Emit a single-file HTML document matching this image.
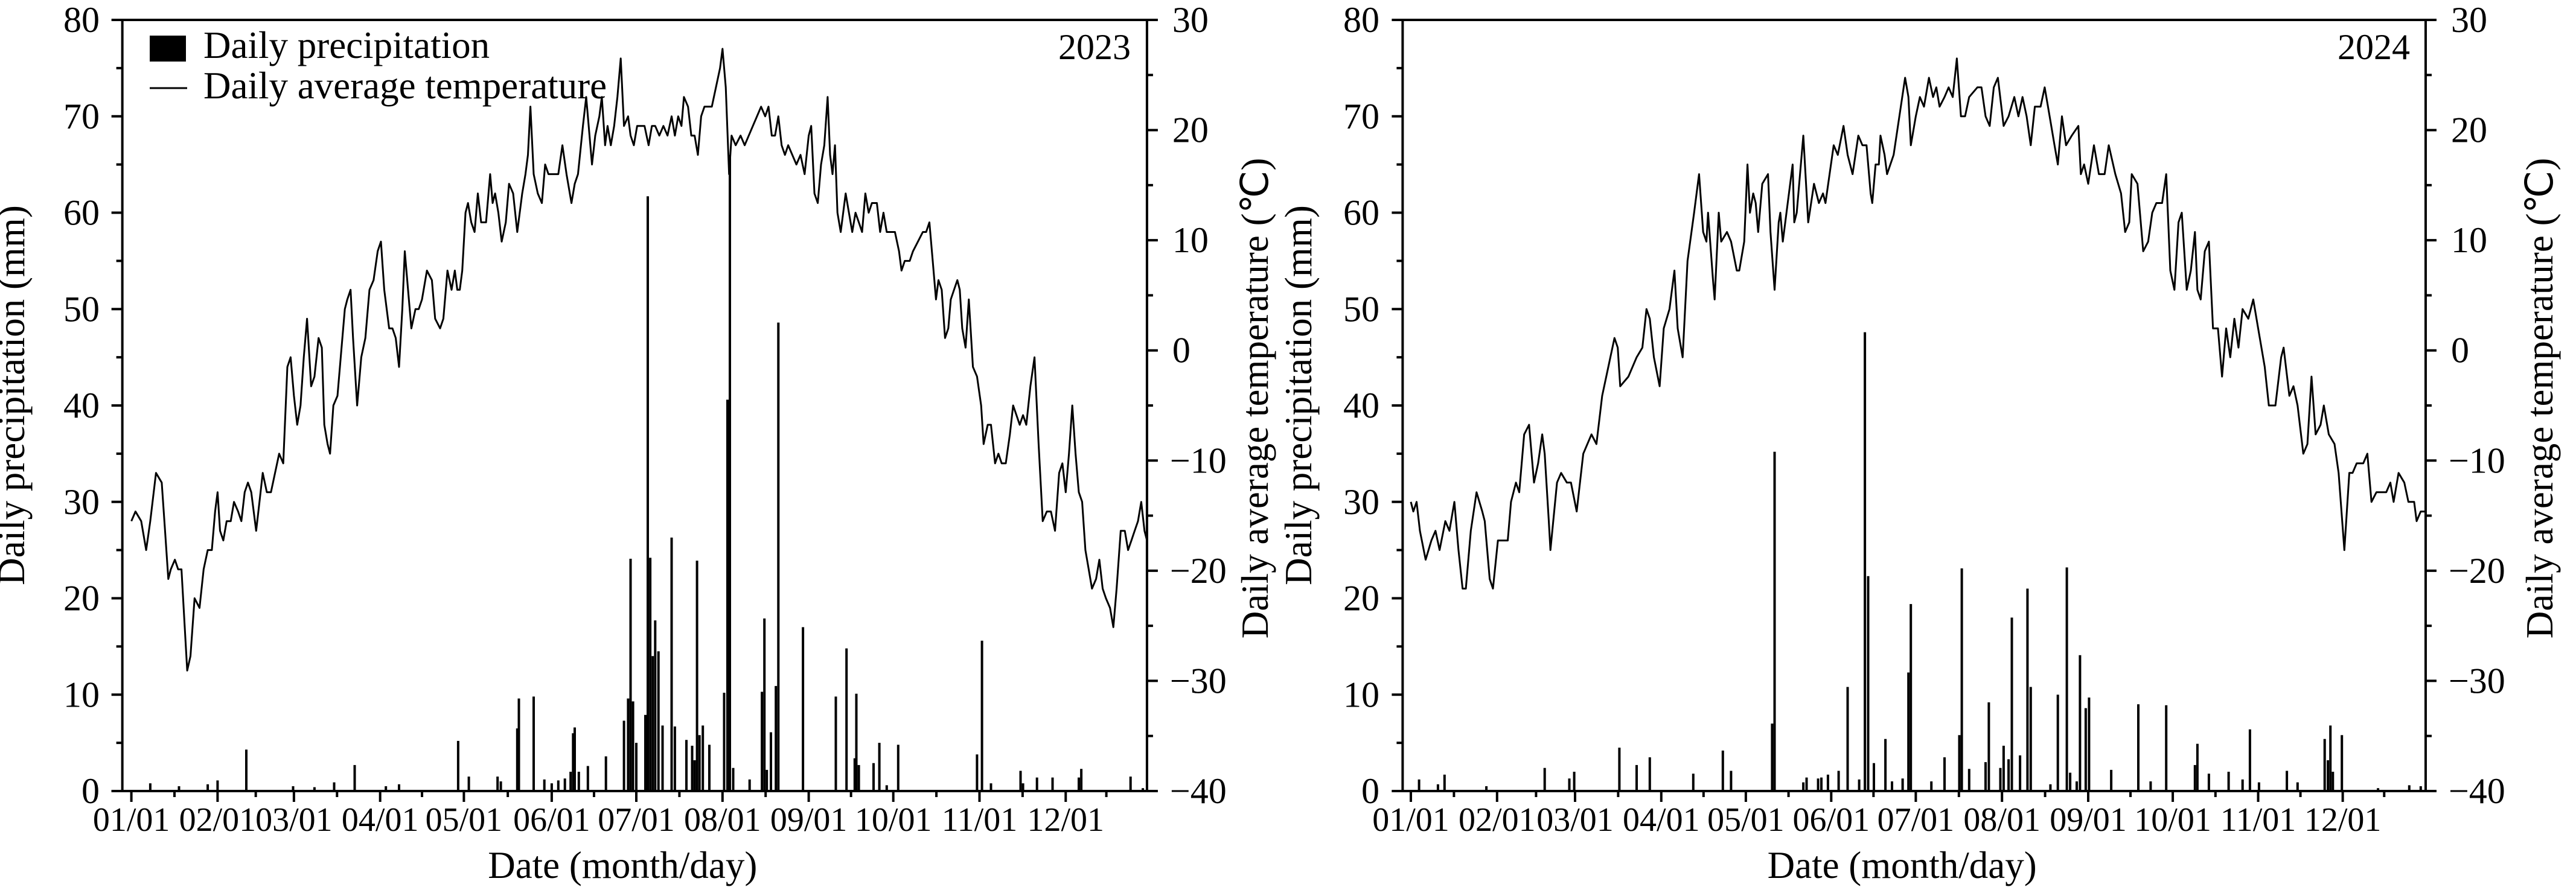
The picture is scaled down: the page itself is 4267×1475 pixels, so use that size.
<!DOCTYPE html>
<html><head><meta charset="utf-8"><style>
html,body{margin:0;padding:0;background:#fff;}
svg{display:block;}
text{font-family:"Liberation Serif",serif;fill:#000;}
</style></head><body>
<svg id="s" xmlns="http://www.w3.org/2000/svg" width="4267" height="1475" viewBox="0 0 4267 1475"></svg>
<script>
const S=document.getElementById('s');
let h='';
const Y0=1311, PY=15.975; // px per mm
function yv(v){return Y0-v*PY;}
function panel(o){
  const X=xz=>o.off+xz*1.36;
  const L=X(o.left), R=X(o.right);
  // bars
  o.bars.forEach(b=>{const x=X(b[0]);h+=`<rect x="${(x-2).toFixed(1)}" y="${yv(b[1]).toFixed(1)}" width="4" height="${(b[1]*PY).toFixed(1)}" fill="#000"/>`;});
  // temp line
  let pts=o.temp.map(p=>X(p[0]).toFixed(1)+','+yv(p[1]).toFixed(1)).join(' ');
  h+=`<polyline points="${pts}" fill="none" stroke="#000" stroke-width="3" stroke-linejoin="round"/>`;
  // axes
  h+=`<line x1="${L}" y1="33" x2="${R}" y2="33" stroke="#000" stroke-width="4"/>`;
  h+=`<line x1="${L}" y1="31" x2="${L}" y2="${Y0}" stroke="#000" stroke-width="4"/>`;
  h+=`<line x1="${R}" y1="31" x2="${R}" y2="${Y0}" stroke="#000" stroke-width="4"/>`;
  h+=`<line x1="${L-18}" y1="${Y0}" x2="${R}" y2="${Y0}" stroke="#000" stroke-width="4"/>`;
  // left ticks
  for(let v=0;v<=80;v+=5){const y=yv(v);const len=v%10==0?18:10;
    h+=`<line x1="${L-len}" y1="${y}" x2="${L}" y2="${y}" stroke="#000" stroke-width="4"/>`;
    if(v%10==0)h+=`<text x="${o.ylab}" y="${y+20}" font-size="60" text-anchor="end">${v}</text>`;}
  // right ticks
  const TY=t=>33+(30-t)*(Y0-33)/70;
  for(let t=-40;t<=30;t+=5){const y=TY(t);const len=t%10==0?18:10;
    h+=`<line x1="${R}" y1="${y}" x2="${R+len}" y2="${y}" stroke="#000" stroke-width="4"/>`;
    if(t%10==0){const s=t<0?'\u2212'+(-t):''+t;h+=`<text x="${R+(t<0?38:42)}" y="${y+20}" font-size="60">${s}</text>`;}}
  // x ticks
  o.months.forEach((m,i)=>{const x=X(m);h+=`<line x1="${x}" y1="${Y0}" x2="${x}" y2="${Y0+18}" stroke="#000" stroke-width="4"/>`;
    h+=`<text x="${x}" y="1377" font-size="56" text-anchor="middle">${String(i+1).padStart(2,'0')}/01</text>`;
    const nx=i<11?o.months[i+1]:o.right; const mx=X((m+nx)/2);
    if(i<11||true)h+=`<line x1="${mx}" y1="${Y0}" x2="${mx}" y2="${Y0+10}" stroke="#000" stroke-width="4"/>`;});
  h+=`<text x="${(L+R)/2-20}" y="1455" font-size="63" text-anchor="middle">Date (month/day)</text>`;
  h+=`<text transform="translate(${o.lt},655) rotate(-90)" font-size="63" text-anchor="middle">Daily precipitation (mm)</text>`;
  h+=`<text transform="translate(${o.rt},660) rotate(-90)" font-size="63" text-anchor="middle">Daily average temperature (\u2103)</text>`;
  h+=`<text x="${o.yr}" y="98" font-size="60" text-anchor="end">${o.year}</text>`;
}
const t23=[[160,28],[165,29],[172,28],[178,25],[183,28],[190,33],[197,32],[201,27],[205,22],[208,23],[213,24],[217,23],[221,23],[225,17],[228,12.5],[232,14],[237,20],[243,19],[248,23],[253,25],[258,25],[262,29],[265,31],[268,27],[272,26],[276,28],[281,28],[285,30],[290,29],[294,28],[298,31],[302,32],[306,31],[312,27],[316,30],[320,33],[325,31],[330,31],[335,33],[340,35],[345,34],[350,44],[354,45],[358,41],[362,38],[366,40],[370,45],[374,49],[379,42],[383,43],[388,47],[392,46],[395,38],[399,36],[402,35],[406,40],[411,41],[415,45],[420,50],[423,51],[427,52],[430,47],[435,40],[440,45],[445,47],[450,52],[455,53],[460,56],[464,57],[468,52],[474,48],[478,48],[482,47],[486,44],[490,50],[493,56],[497,52],[501,48],[506,50],[510,50],[514,51],[520,54],[526,53],[530,49],[536,48],[540,49],[545,54],[550,52],[554,54],[557,52],[560,52],[563,54],[567,60],[570,61],[574,59],[578,58],[582,62],[586,59],[592,59],[597,64],[600,61],[603,62],[607,60],[611,57],[616,59],[620,63],[625,62],[630,58],[636,62],[640,64],[643,66],[646,71],[650,64],[655,62],[660,61],[664,65],[668,64],[674,64],[680,64],[685,67],[690,64],[696,61],[700,63],[704,64],[710,69],[714,72],[718,68],[721,65],[725,68],[730,70],[733,72],[737,67],[740,69],[744,67],[748,69],[752,72],[756,76],[760,69],[765,70],[768,68],[772,67],[776,69],[780,69],[785,69],[790,67],[794,69],[798,69],[803,68],[808,69],[813,68],[818,70],[822,68],[826,70],[830,69],[833,72],[838,71],[842,68],[846,68],[850,66],[854,70],[858,71],[863,71],[867,71],[872,73],[877,75],[880,77],[884,73],[888,64],[891,68],[896,67],[902,68],[907,67],[912,68],[917,69],[922,70],[927,71],[932,70],[936,71],[940,68],[944,68],[948,70],[952,67],[956,66],[960,67],[965,66],[970,65],[975,66],[980,64],[985,68],[988,69],[992,62],[996,61],[1000,65],[1004,67],[1008,72],[1011,66],[1014,64],[1017,67],[1020,60],[1024,58],[1030,62],[1034,60],[1038,58],[1042,60],[1046,59],[1050,58],[1054,62],[1058,60],[1062,61],[1068,61],[1072,58],[1076,60],[1080,58],[1085,58],[1090,58],[1095,56],[1098,54],[1102,55],[1108,55],[1112,56],[1118,57],[1124,58],[1128,58],[1132,59],[1136,55],[1140,51],[1143,53],[1147,52],[1151,47],[1155,48],[1158,51],[1162,52],[1166,53],[1169,52],[1172,48],[1176,46],[1180,51],[1185,44],[1190,43],[1195,40],[1198,36],[1203,38],[1207,38],[1212,34],[1216,35],[1220,34],[1225,34],[1230,37],[1234,40],[1238,39],[1242,38],[1246,39],[1250,38],[1255,42],[1260,45],[1265,36],[1270,28],[1275,29],[1280,29],[1285,27],[1290,33],[1294,34],[1298,31],[1302,35],[1306,40],[1310,35],[1314,31],[1318,30],[1322,25],[1326,23],[1330,21],[1335,22],[1339,24],[1343,21],[1347,20],[1352,19],[1356,17],[1360,21],[1365,27],[1370,27],[1374,25],[1378,26],[1382,27],[1386,28],[1390,30],[1394,27],[1397,26]];
const b23=[[183,0.8],[218,0.5],[253,0.7],[265,1.1],[300,4.3],[357,0.5],[383,0.4],[407,0.9],[432,2.7],[470,0.5],[486,0.7],[558,5.2],[571,1.5],[606,1.5],[610,1.0],[630,6.5],[632,9.6],[650,9.8],[663,1.2],[672,0.8],[680,1.1],[688,1.3],[695,2.0],[698,6.0],[700,6.6],[705,2.0],[716,2.6],[738,3.6],[760,7.3],[765,9.6],[768,24.1],[771,9.3],[775,5.0],[786,7.9],[789,61.7],[792,24.2],[795,14.0],[798,17.7],[802,14.5],[807,6.8],[818,26.3],[822,6.7],[836,5.3],[843,4.7],[846,3.2],[849,23.9],[852,5.8],[856,6.8],[864,4.8],[882,10.2],[886,40.6],[889,66],[893,2.4],[913,1.2],[928,10.3],[931,17.9],[934,2.2],[939,6.1],[945,10.9],[948,48.6],[978,17.0],[1018,9.8],[1031,14.8],[1041,3.4],[1043,10.1],[1046,2.7],[1064,2.9],[1071,5.0],[1080,0.6],[1094,4.8],[1190,3.8],[1196,15.6],[1207,0.8],[1243,2.1],[1246,0.8],[1263,1.4],[1282,1.4],[1314,1.4],[1317,2.3],[1377,1.5],[1392,0.3]];
const t24=[[150,30],[153,29],[157,30],[161,27],[168,24],[175,26],[180,27],[185,25],[192,28],[197,27],[203,30],[208,25],[213,21],[217,21],[223,27],[230,31],[237,29],[240,28],[246,22],[250,21],[256,26],[262,26],[268,26],[272,30],[278,32],[282,31],[288,37],[294,38],[300,32],[305,34],[310,37],[313,35],[318,28],[320,25],[328,32],[333,33],[340,32],[345,32],[352,29],[360,35],[370,37],[376,36],[383,41],[393,45],[398,47],[402,46],[405,42],[415,43],[425,45],[432,46],[437,50],[441,49],[446,45],[453,42],[458,48],[465,50],[471,54],[475,48],[481,45],[487,55],[495,60],[501,64],[506,58],[510,57],[512,60],[518,53],[520,51],[525,60],[528,57],[535,58],[540,57],[547,54],[550,54],[556,57],[560,65],[563,60],[567,62],[570,61],[573,58],[578,63],[585,64],[588,58],[593,52],[598,59],[600,60],[603,57],[615,65],[617,59],[620,60],[628,68],[634,59],[641,63],[647,61],[652,62],[655,61],[665,67],[670,66],[677,69],[682,66],[688,64],[695,68],[700,67],[705,67],[710,62],[712,61],[716,65],[720,65],[722,68],[727,66],[730,64],[738,66],[745,70],[752,74],[756,72],[759,67],[765,70],[770,72],[775,71],[781,74],[786,72],[790,73],[794,71],[800,72],[805,73],[810,72],[815,76],[820,70],[825,70],[830,72],[840,73],[845,73],[850,70],[855,69],[860,73],[865,74],[872,69],[878,70],[885,72],[890,70],[895,72],[900,70],[905,67],[910,71],[917,71],[922,73],[928,70],[934,67],[938,65],[943,70],[948,67],[955,68],[963,69],[966,64],[970,65],[975,63],[982,67],[988,64],[995,64],[1000,67],[1008,64],[1015,62],[1020,58],[1025,59],[1028,64],[1035,63],[1042,56],[1048,57],[1053,60],[1058,61],[1065,61],[1070,64],[1075,54],[1080,52],[1085,59],[1089,60],[1095,52],[1100,54],[1105,58],[1108,52],[1112,51],[1117,56],[1122,57],[1127,48],[1133,48],[1138,43],[1143,48],[1148,45],[1153,49],[1158,46],[1163,50],[1170,49],[1176,51],[1182,48],[1190,44],[1195,40],[1203,40],[1210,45],[1213,46],[1220,41],[1225,42],[1230,40],[1237,35],[1242,36],[1247,43],[1252,37],[1258,38],[1262,40],[1268,37],[1275,36],[1280,33],[1287,25],[1293,33],[1297,33],[1302,34],[1310,34],[1315,35],[1320,30],[1326,31],[1333,31],[1338,31],[1343,32],[1347,30],[1353,33],[1360,32],[1365,30],[1372,30],[1375,28],[1380,29],[1386,29]];
const b24=[[160,1.2],[183,0.7],[191,1.7],[242,0.5],[313,2.4],[343,1.3],[349,2.0],[404,4.5],[425,2.7],[441,3.5],[494,1.8],[530,4.2],[540,2.1],[590,7.0],[593,35.2],[628,0.9],[632,1.4],[646,1.3],[650,1.4],[658,1.7],[671,2.1],[682,10.8],[696,1.2],[703,47.6],[707,22.3],[714,2.9],[728,5.4],[736,1.0],[749,1.3],[756,12.3],[759,19.4],[784,1.0],[800,3.5],[818,5.8],[821,23.1],[830,2.3],[850,3.0],[854,9.2],[868,2.4],[872,4.7],[878,3.3],[882,18.0],[892,3.7],[901,21.0],[905,10.8],[929,0.7],[938,10.0],[949,23.2],[953,1.9],[961,1.0],[965,14.1],[972,8.6],[976,9.7],[1003,2.2],[1036,9.0],[1051,1.0],[1070,8.9],[1105,2.7],[1108,4.9],[1122,1.8],[1146,2.0],[1163,1.2],[1172,6.4],[1183,0.9],[1217,2.1],[1230,0.9],[1263,5.4],[1267,3.2],[1270,6.8],[1273,2.0],[1284,5.8],[1328,0.3],[1366,0.6],[1380,0.5]];
panel({off:0,left:149,right:1397,bars:b23,temp:t23,months:[160,265,358,463,565,672,775,880,985,1088,1193,1298],ylab:165,lt:40,rt:2100,yr:1873,year:'2023'});
panel({off:2133,left:140,right:1386,bars:b24,temp:t24,months:[150,255,350,455,558,662,765,870,975,1078,1182,1285],ylab:2285,lt:2172,rt:4228,yr:3992,year:'2024'});
// legend
h+=`<rect x="248" y="59" width="60" height="43" fill="#000"/>`;
h+=`<text x="337" y="96" font-size="63">Daily precipitation</text>`;
h+=`<line x1="248" y1="146" x2="310" y2="146" stroke="#000" stroke-width="3"/>`;
h+=`<text x="337" y="163" font-size="63">Daily average temperature</text>`;
S.innerHTML=h;
</script>
</body></html>
